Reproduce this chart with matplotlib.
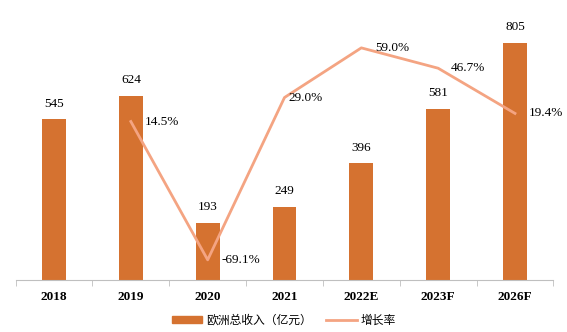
import matplotlib.pyplot as plt
from matplotlib.lines import Line2D
from matplotlib.patches import Patch

years = ['2018', '2019', '2020', '2021', '2022E', '2023F', '2026F']
revenue = [545, 624, 193, 249, 396, 581, 805]
growth_years = ['2019', '2020', '2021', '2022E', '2023F', '2026F']
growth = [14.5, -69.1, 29.0, 59.0, 46.7, 19.4]

bar_color = '#D57230'
line_color = '#F4A482'
serif = ['Liberation Serif', 'DejaVu Serif']
cjk = ['Noto Sans CJK SC', 'DejaVu Sans']

fig = plt.figure(figsize=(5.67, 3.32), dpi=100)
ax = fig.add_axes([0.0275, 0.157, 0.9485, 0.798])
x = list(range(len(years)))
ax.bar(x, revenue, width=0.31, color=bar_color, zorder=2)
for xi, v in zip(x, revenue):
    ax.annotate(str(v), (xi, v), xytext=(0, 7), textcoords='offset points',
                ha='center', va='bottom', fontsize=9.5, family=serif)

ax.set_xlim(-0.5, len(years) - 0.5)
ax.set_ylim(0, 900)
ax.set_yticks([])
for s in ['top', 'right', 'left']:
    ax.spines[s].set_visible(False)
ax.spines['bottom'].set_color('#BFBFBF')
ax.set_xticks(x)
ax.set_xticklabels(years, fontsize=9.5, fontweight='bold', family=serif)
ax.tick_params(axis='x', length=0, pad=8)
ax.set_xticks([i - 0.5 for i in range(len(years) + 1)], minor=True)
ax.tick_params(axis='x', which='minor', length=4, color='#BFBFBF')

ax2 = ax.twinx()
gx = [years.index(g) for g in growth_years]
ax2.plot(gx, growth, color=line_color, lw=2, zorder=3)
ax2.set_ylim(-81.2, 78.9)
ax2.axis('off')
dx = [10, 10, 3, 10, 9, 10]
for xi, g, ox in zip(gx, growth, dx):
    ax2.annotate(f'{g:.1f}%', (xi, g), xytext=(ox, 0), textcoords='offset points',
                 ha='left', va='center', fontsize=9.5, family=serif)

handles = [Patch(color=bar_color), Line2D([], [], color=line_color, lw=2)]
fig.legend(handles, ['欧洲总收入（亿元）', '增长率'], loc='center',
           bbox_to_anchor=(0.5, 0.035), ncol=2, frameon=False,
           prop={'family': cjk, 'size': 8.5}, handlelength=2.6,
           handleheight=0.6, columnspacing=1.2, handletextpad=0.3)

fig.savefig('out.png', dpi=100)
